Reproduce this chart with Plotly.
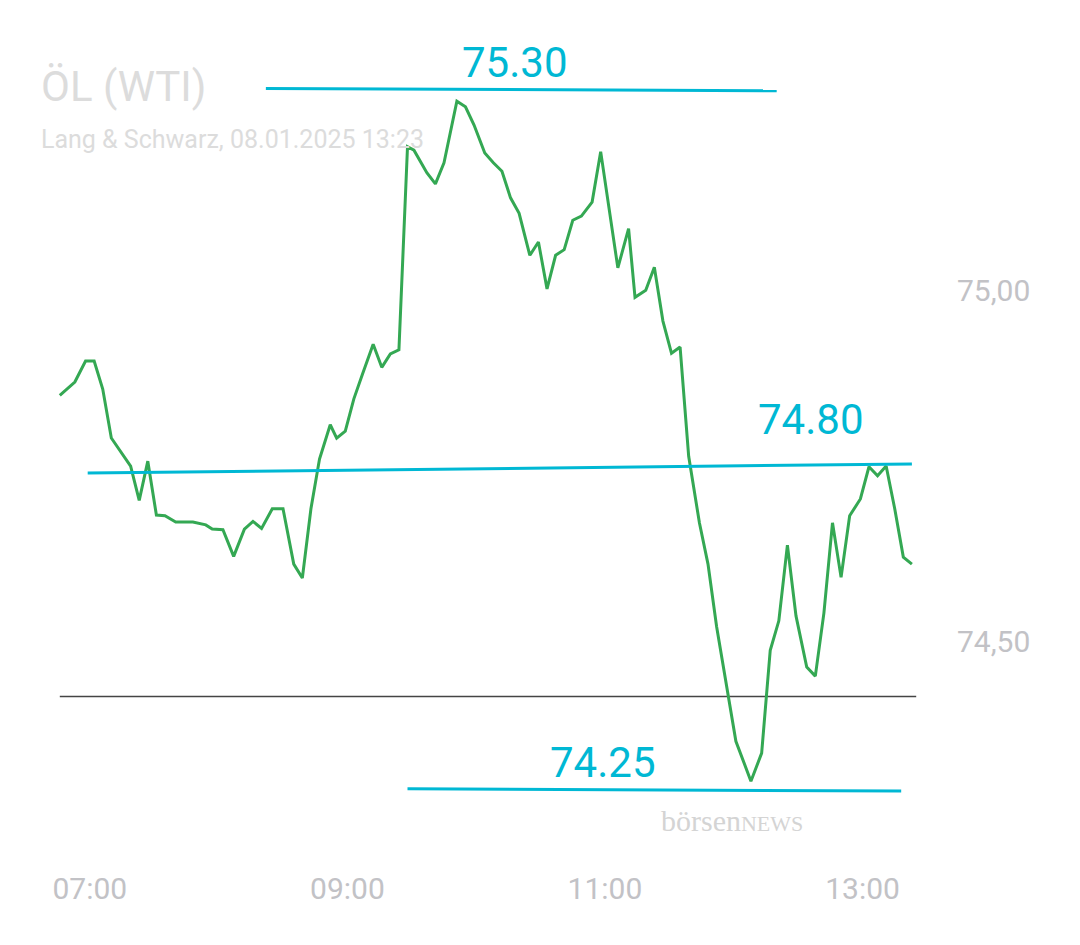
import plotly.graph_objects as go

# price series, 08.01.2025 (time, price)
times = ["06:46", "06:53", "06:58", "07:02", "07:06", "07:10", "07:19", "07:23", "07:27", "07:31",
         "07:35", "07:40", "07:48", "07:54", "07:57", "08:02", "08:07", "08:12", "08:16", "08:20",
         "08:25", "08:30", "08:35", "08:39", "08:43", "08:47", "08:52", "08:55", "08:59", "09:03",
         "09:07", "09:12", "09:16", "09:20", "09:24", "09:28", "09:31", "09:37", "09:41", "09:45",
         "09:51", "09:55", "09:59", "10:04", "10:08", "10:12", "10:16", "10:20", "10:25", "10:29",
         "10:33", "10:37", "10:41", "10:45", "10:49", "10:54", "10:58", "11:02", "11:06", "11:11",
         "11:14", "11:19", "11:23", "11:27", "11:31", "11:35", "11:39", "11:44", "11:48", "11:52",
         "11:56", "12:01", "12:08", "12:13", "12:17", "12:21", "12:25", "12:29", "12:34", "12:38",
         "12:42", "12:46", "12:50", "12:54", "12:59", "13:03", "13:07", "13:11", "13:15", "13:19",
         "13:23"]
prices = [74.851, 74.870, 74.900, 74.900, 74.860, 74.790, 74.750, 74.701, 74.757, 74.680,
          74.679, 74.670, 74.670, 74.666, 74.660, 74.659, 74.621, 74.660, 74.671, 74.661,
          74.689, 74.689, 74.610, 74.590, 74.689, 74.760, 74.809, 74.790, 74.800, 74.846,
          74.881, 74.924, 74.891, 74.910, 74.916, 75.206, 75.201, 75.169, 75.153, 75.183,
          75.271, 75.263, 75.237, 75.197, 75.183, 75.171, 75.133, 75.111, 75.051, 75.070,
          75.003, 75.051, 75.059, 75.101, 75.107, 75.127, 75.199, 75.117, 75.033, 75.089,
          74.991, 75.001, 75.034, 74.957, 74.911, 74.920, 74.764, 74.669, 74.610, 74.521,
          74.450, 74.357, 74.300, 74.340, 74.487, 74.529, 74.637, 74.536, 74.463, 74.450,
          74.540, 74.669, 74.591, 74.679, 74.703, 74.749, 74.736, 74.750, 74.689, 74.620,
          74.610]
prev_close = 74.421

# drawn levels: (label, start, end, price at start, price at end)
levels = [
    ("75.30", "08:22", "12:20", 75.289, 75.286),
    ("74.80", "06:59", "13:23", 74.740, 74.753),
    ("74.25", "09:28", "13:18", 74.289, 74.286),
]

day = "2025-01-08 "
x = [day + t for t in times]
CYAN = "#00b8d4"
GREY = "#c2c2c6"

fig = go.Figure()
fig.add_trace(go.Scatter(x=[day + "06:46", day + "13:25"], y=[prev_close] * 2, mode="lines",
                         line=dict(color="#444444", width=1.5), hoverinfo="skip"))
fig.add_trace(go.Scatter(x=x, y=prices, mode="lines", line=dict(color="#34a853", width=3)))
for label, t0, t1, p0, p1 in levels:
    fig.add_trace(go.Scatter(x=[day + t0, day + t1], y=[p0, p1], mode="lines",
                             line=dict(color=CYAN, width=3), hoverinfo="skip"))

fig.add_annotation(x=day + "10:18", y=75.289, text="75.30", showarrow=False, yanchor="bottom",
                   font=dict(size=42, color=CYAN, family="Roboto"))
fig.add_annotation(x=day + "12:36", y=74.753, text="74.80", showarrow=False, yanchor="bottom",
                   yshift=18, font=dict(size=42, color=CYAN, family="Roboto"))
fig.add_annotation(x=day + "10:59", y=74.289, text="74.25", showarrow=False, yanchor="bottom",
                   font=dict(size=42, color=CYAN, family="Roboto"))

fig.add_annotation(xref="paper", yref="paper", x=-0.01, y=0.985, text="ÖL (WTI)", showarrow=False,
                   xanchor="left", font=dict(size=42, color="#dcdcdc", family="Roboto"))
fig.add_annotation(xref="paper", yref="paper", x=-0.01, y=0.908, text="Lang &amp; Schwarz, 08.01.2025 13:23",
                   showarrow=False, xanchor="left", font=dict(size=25, color="#dcdcdc", family="Roboto"))
fig.add_annotation(xref="paper", yref="paper", x=0.86, y=0.035, text="börsen<span style='font-size:22px'>NEWS</span>",
                   showarrow=False, xanchor="right", font=dict(size=30, color="#d4d4d4", family="Liberation Serif"))

fig.update_layout(
    width=1080, height=945, paper_bgcolor="white", plot_bgcolor="white",
    margin=dict(l=40, r=160, t=40, b=85), showlegend=False,
    xaxis=dict(range=[day + "06:40:30", day + "13:30:30"], showgrid=False, zeroline=False,
               tickvals=[day + h for h in ["07:00", "09:00", "11:00", "13:00"]],
               ticktext=["07:00", "09:00", "11:00", "13:00"], ticks="",
               tickfont=dict(size=30, color=GREY, family="Roboto")),
    yaxis=dict(range=[74.176, 75.347], side="right", showgrid=False, zeroline=False,
               tickvals=[74.5, 75.0], ticktext=["74,50", "75,00"], ticks="",
               ticklabelstandoff=28, tickfont=dict(size=30, color=GREY, family="Roboto")),
)
fig.write_html("out.html")
